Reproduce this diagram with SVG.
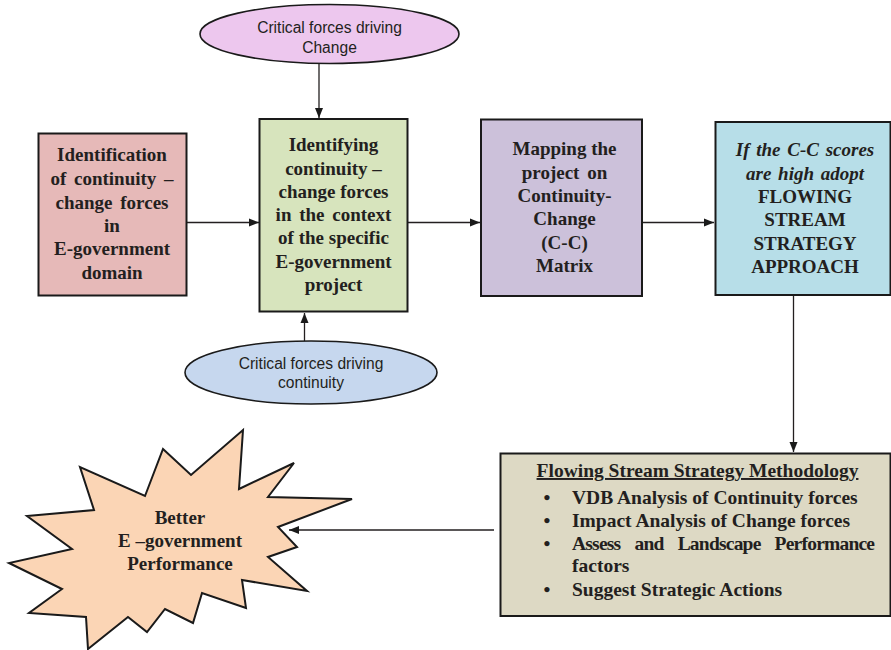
<svg xmlns="http://www.w3.org/2000/svg" width="891" height="650" viewBox="0 0 891 650">
<style>
.box{stroke:#1a1a1a;stroke-width:2}
.t{font-family:"Liberation Serif","Times New Roman",serif;font-weight:bold;font-size:19px;fill:#231f20;text-anchor:middle}
.s{font-family:"Liberation Sans",Arial,sans-serif;font-size:15.6px;fill:#231f20;text-anchor:middle}
.c{stroke:#231f20;stroke-width:1.3;fill:none;marker-end:url(#ah)}
.l{font-family:"Liberation Serif","Times New Roman",serif;font-weight:bold;font-size:19.5px;fill:#231f20}
</style>
<defs>
<marker id="ah" viewBox="0 0 10 10" refX="10" refY="5" markerWidth="10" markerHeight="10" markerUnits="userSpaceOnUse" orient="auto">
<path d="M0,1 L10,5 L0,9 Z" fill="#1a1a1a"/>
</marker>
</defs>
<rect width="891" height="650" fill="#fff"/>

<g id="connectors">
<line class="c" x1="187" y1="222.5" x2="259" y2="222.5"/>
<line class="c" x1="407" y1="222.5" x2="480" y2="222.5"/>
<line class="c" x1="642" y1="222.5" x2="714" y2="222.5"/>
<line class="c" x1="319" y1="64" x2="319" y2="118"/>
<line class="c" x1="304.5" y1="341" x2="304.5" y2="313"/>
<line class="c" x1="793.5" y1="295" x2="793.5" y2="452"/>
<line class="c" x1="494" y1="530" x2="289" y2="530"/>
</g>

<g id="node-identification">
<rect class="box" x="38.5" y="133.5" width="148" height="162" fill="#E6B9B8"/>
<text class="t" x="112" y="161">Identification</text>
<text class="t" x="112" y="185" word-spacing="3">of continuity –</text>
<text class="t" x="112" y="208.5" word-spacing="3">change forces</text>
<text class="t" x="112" y="232">in</text>
<text class="t" x="112" y="255">E-government</text>
<text class="t" x="112" y="278.5">domain</text>
</g>

<g id="node-identifying">
<rect class="box" x="259.5" y="119" width="148" height="192.5" fill="#D7E4BD"/>
<text class="t" x="333.5" y="151">Identifying</text>
<text class="t" x="333.5" y="174.5">continuity –</text>
<text class="t" x="333.5" y="197.5">change forces</text>
<text class="t" x="333.5" y="221" word-spacing="3">in the context</text>
<text class="t" x="333.5" y="244">of the specific</text>
<text class="t" x="333.5" y="267.5">E-government</text>
<text class="t" x="333.5" y="291">project</text>
</g>

<g id="node-mapping">
<rect class="box" x="481" y="119.5" width="161" height="176.5" fill="#CCC1DA"/>
<text class="t" x="564.5" y="155">Mapping the</text>
<text class="t" x="564.5" y="178.5" word-spacing="3">project on</text>
<text class="t" x="564.5" y="201.5">Continuity-</text>
<text class="t" x="564.5" y="225">Change</text>
<text class="t" x="564.5" y="248.5">(C-C)</text>
<text class="t" x="564.5" y="272">Matrix</text>
</g>

<g id="node-flowing">
<rect class="box" x="715.5" y="122" width="175" height="173" fill="#B7DEE8"/>
<text class="t" x="805" y="156" font-style="italic" word-spacing="2">If the C-C scores</text>
<text class="t" x="805" y="179.5" font-style="italic" word-spacing="2">are high adopt</text>
<text class="t" x="805" y="203">FLOWING</text>
<text class="t" x="805" y="226">STREAM</text>
<text class="t" x="805" y="249.5">STRATEGY</text>
<text class="t" x="805" y="273">APPROACH</text>
</g>

<g id="node-change">
<ellipse cx="329.5" cy="34" rx="129.5" ry="29.5" fill="#EDC7EE" stroke="#1a1a1a" stroke-width="1.6"/>
<text class="s" x="329.5" y="32.5">Critical forces driving</text>
<text class="s" x="329.5" y="52.5">Change</text>
</g>

<g id="node-continuity">
<ellipse cx="311" cy="372.5" rx="126" ry="31.5" fill="#C6D7EE" stroke="#1a1a1a" stroke-width="1.6"/>
<text class="s" x="311" y="368.5">Critical forces driving</text>
<text class="s" x="311" y="387.5">continuity</text>
</g>

<g id="node-methodology">
<rect class="box" x="500.5" y="453.5" width="390" height="162.5" fill="#DDD9C4"/>
<text class="l" x="697.5" y="477" text-anchor="middle" text-decoration="underline">Flowing Stream Strategy Methodology</text>
<text class="l" x="547" y="503.5" text-anchor="middle">•</text>
<text class="l" x="572" y="503.5">VDB Analysis of Continuity forces</text>
<text class="l" x="547" y="527" text-anchor="middle">•</text>
<text class="l" x="572" y="527">Impact Analysis of Change forces</text>
<text class="l" x="547" y="550" text-anchor="middle">•</text>
<text class="l" x="572" y="550" textLength="303" lengthAdjust="spacing" word-spacing="10">Assess and Landscape Performance</text>
<text class="l" x="572" y="572">factors</text>
<text class="l" x="547" y="596" text-anchor="middle">•</text>
<text class="l" x="572" y="596">Suggest Strategic Actions</text>
</g>

<g id="node-better">
<polygon points="163,449 191,475 243,430 239,489 294,463 268,497 352,499 278,527 297,547 268,557 307,591 242,580 246,608 202,593 193,623 165,609 147,632 128,617 88,649 86,617 29,613 62,589 9,563 72,549 27,516 94,510 80,467 145,496" fill="#FBD5B5" stroke="#1a1a1a" stroke-width="2" stroke-linejoin="miter"/>
<text class="t" x="180" y="523.5">Better</text>
<text class="t" x="180" y="547">E –government</text>
<text class="t" x="180" y="570">Performance</text>
</g>
</svg>
